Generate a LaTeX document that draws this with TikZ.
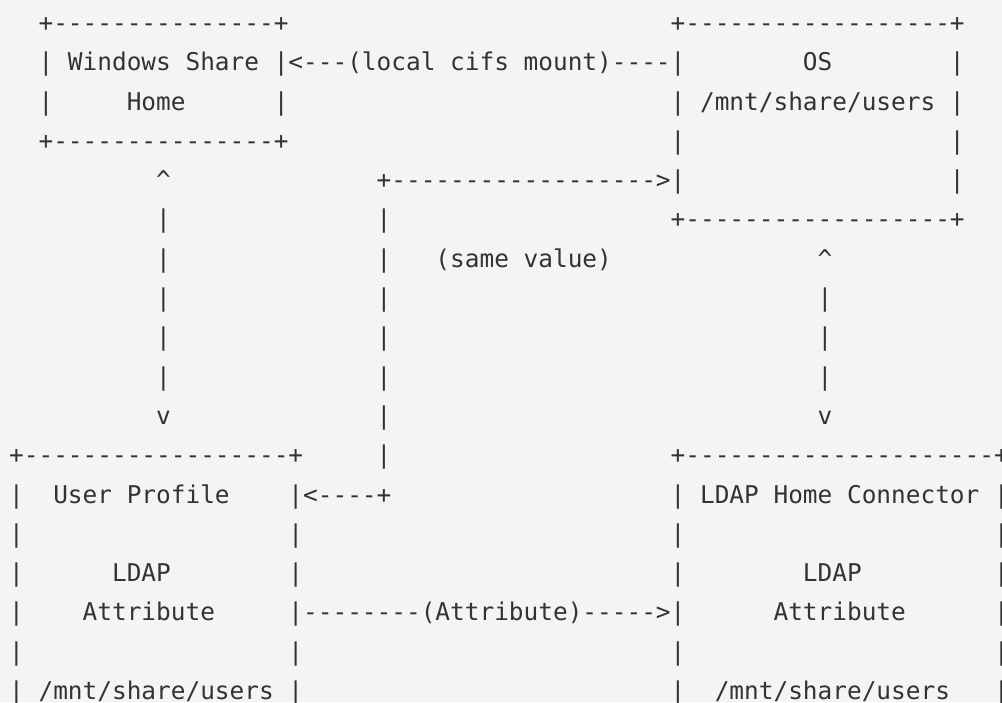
\documentclass[tikz,border=0pt]{standalone}
\usepackage{fontspec}
\setmonofont{DejaVu Sans Mono}
\definecolor{bgc}{HTML}{F4F4F4}
\definecolor{fgc}{HTML}{333333}
\newcommand\asctext[4]{\node[asc] (#1) at ({9.15+#2*14.7},{31.4+#3*39.3}) {#4};}
\begin{document}
\begin{tikzpicture}[x=1pt,y=-1pt,
  asc/.style={anchor=base west, inner sep=0pt, outer sep=0pt, text=fgc,
              font=\ttfamily\fontsize{24.42}{30}\selectfont}]
\fill[bgc] (0,0) rectangle (1002,702);
\useasboundingbox (0,0) rectangle (1002,702);
% row 0
\asctext{wtop}{2}{0}{+---------------+}
\asctext{otop}{45}{0}{+------------------+}
% row 1
\asctext{wline}{2}{1}{| Windows Share |<---(local cifs mount)----|}
\asctext{os}{54}{1}{OS}
\asctext{osr1}{64}{1}{|}
% row 2
\asctext{wl2}{2}{2}{|}
\asctext{home}{8}{2}{Home}
\asctext{wr2}{18}{2}{|}
\asctext{mnt1}{45}{2}{| /mnt/share/users |}
% row 3
\asctext{wbot}{2}{3}{+---------------+}
\asctext{osl3}{45}{3}{|}
\asctext{osr3}{64}{3}{|}
% row 4
\asctext{up1}{10}{4}{\textasciicircum}
\asctext{same}{25}{4}{+------------------>|}
\asctext{osr4}{64}{4}{|}
% row 5
\asctext{v5a}{10}{5}{|}
\asctext{v5b}{25}{5}{|}
\asctext{obot}{45}{5}{+------------------+}
% row 6
\asctext{v6a}{10}{6}{|}
\asctext{v6b}{25}{6}{|}
\asctext{samev}{29}{6}{(same value)}
\asctext{up2}{55}{6}{\textasciicircum}
% rows 7-9
\asctext{v7a}{10}{7}{|}
\asctext{v7b}{25}{7}{|}
\asctext{v7c}{55}{7}{|}
\asctext{v8a}{10}{8}{|}
\asctext{v8b}{25}{8}{|}
\asctext{v8c}{55}{8}{|}
\asctext{v9a}{10}{9}{|}
\asctext{v9b}{25}{9}{|}
\asctext{v9c}{55}{9}{|}
% row 10
\asctext{dn1}{10}{10}{v}
\asctext{v10b}{25}{10}{|}
\asctext{dn2}{55}{10}{v}
% row 11
\asctext{utop}{0}{11}{+------------------+}
\asctext{v11b}{25}{11}{|}
\asctext{ltop}{45}{11}{+---------------------+}
% row 12
\asctext{ul12}{0}{12}{|}
\asctext{uprof}{3}{12}{User Profile}
\asctext{back}{19}{12}{|<----+}
\asctext{lhc}{45}{12}{| LDAP Home Connector |}
% row 13
\asctext{ul13}{0}{13}{|}
\asctext{ur13}{19}{13}{|}
\asctext{ll13}{45}{13}{|}
\asctext{lr13}{67}{13}{|}
% row 14
\asctext{ul14}{0}{14}{|}
\asctext{uldap}{7}{14}{LDAP}
\asctext{ur14}{19}{14}{|}
\asctext{ll14}{45}{14}{|}
\asctext{lldap}{54}{14}{LDAP}
\asctext{lr14}{67}{14}{|}
% row 15
\asctext{ul15}{0}{15}{|}
\asctext{uattr}{5}{15}{Attribute}
\asctext{attr}{19}{15}{|--------(Attribute)----->|}
\asctext{lattr}{52}{15}{Attribute}
\asctext{lr15}{67}{15}{|}
% row 16
\asctext{ul16}{0}{16}{|}
\asctext{ur16}{19}{16}{|}
\asctext{ll16}{45}{16}{|}
\asctext{lr16}{67}{16}{|}
% row 17
\asctext{umnt}{0}{17}{| /mnt/share/users}
\asctext{ur17}{19}{17}{|}
\asctext{ll17}{45}{17}{|}
\asctext{lmnt}{48}{17}{/mnt/share/users}
\asctext{lr17}{67}{17}{|}
\end{tikzpicture}
\end{document}
